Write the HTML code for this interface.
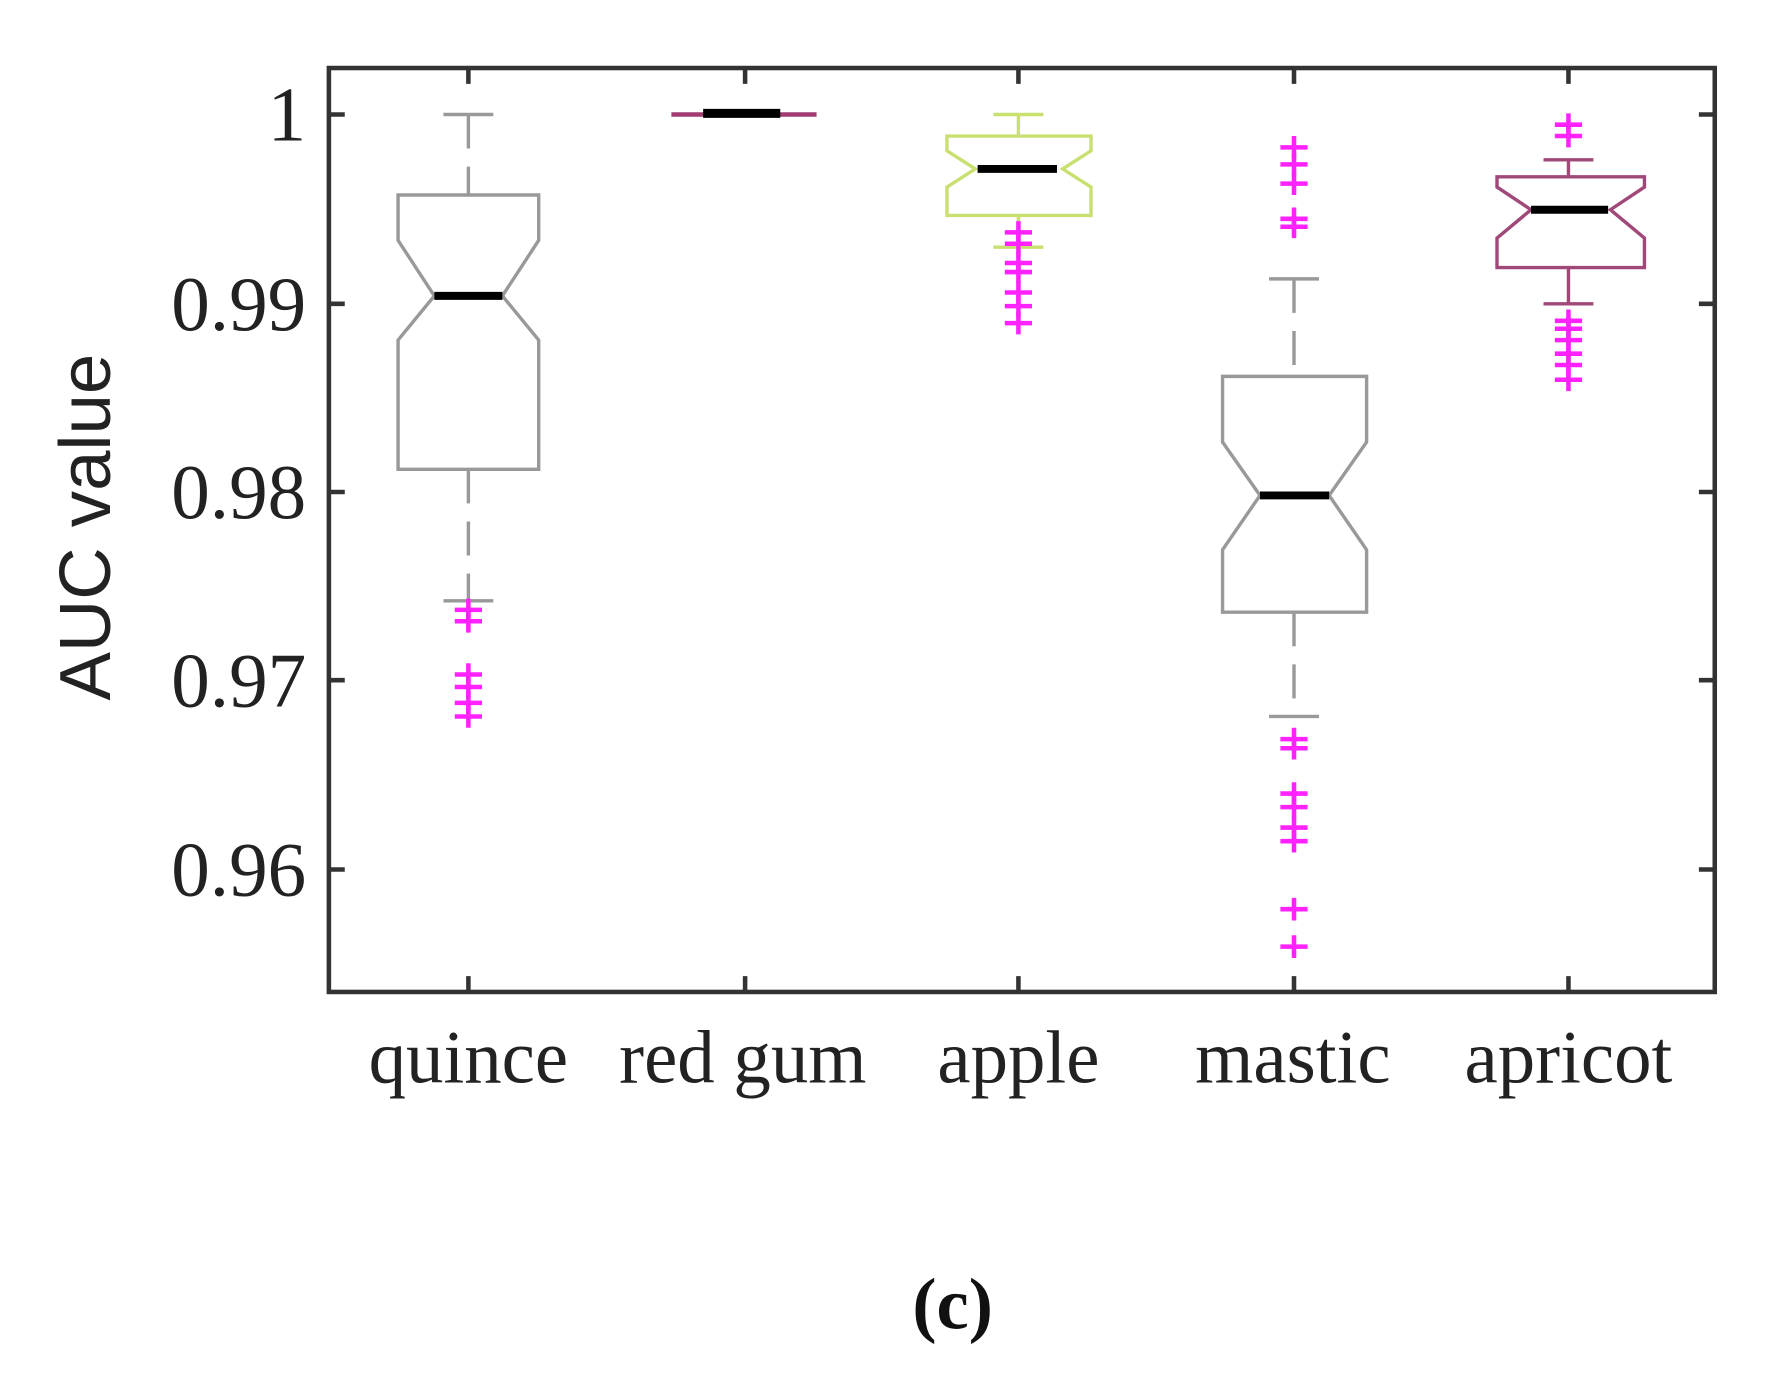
<!DOCTYPE html>
<html><head><style>html,body{margin:0;padding:0;background:#fff;}svg{display:block}</style></head>
<body>
<svg width="1776" height="1374" viewBox="0 0 1566 1212" preserveAspectRatio="none" xmlns="http://www.w3.org/2000/svg">
<defs>
<g id="p"><path d="M-12 0H12M0 -10V10" stroke="#ff22ff" stroke-width="4"/></g>
</defs>
<rect x="290" y="60" width="1222" height="815" fill="none" stroke="#333" stroke-width="4"/>
<g stroke="#333" stroke-width="4">
<path d="M290 101h14M290 268h14M290 434h14M290 600h14M290 767h14"/>
<path d="M1512 101h-14M1512 268h-14M1512 434h-14M1512 600h-14M1512 767h-14"/>
<path d="M413 875v-14M657 875v-14M898 875v-14M1141 875v-14M1383 875v-14"/>
<path d="M413 60v14M657 60v14M898 60v14M1141 60v14M1383 60v14"/>
</g>
<g font-family="Liberation Serif, serif" font-size="68" fill="#222" text-anchor="end">
<text x="270" y="124">1</text><text x="270" y="291">0.99</text><text x="270" y="457">0.98</text><text x="270" y="623">0.97</text><text x="270" y="790">0.96</text>
</g>
<text transform="translate(97,465) rotate(-90)" font-family="Liberation Sans, sans-serif" font-size="64" fill="#222" text-anchor="middle">AUC value</text>
<g font-family="Liberation Serif, serif" font-size="66" fill="#222" text-anchor="middle">
<text x="413" y="955">quince</text><text x="655" y="955">red gum</text><text x="898" y="955">apple</text><text x="1140" y="955">mastic</text><text x="1383" y="955">apricot</text>
</g>
<text x="840" y="1172" font-family="Liberation Serif, serif" font-size="64" font-weight="bold" fill="#111" text-anchor="middle">(c)</text>
<!-- quince -->
<g stroke="#999" stroke-width="3" fill="none">
<path d="M391 101h44M391 530h44"/>
<path d="M413 101v70M413 414v116" stroke-dasharray="30 16"/>
<path d="M351 172H475V212L443 261L475 300V414H351V300L383 261L351 212Z"/>
</g>
<path d="M383 261h60" stroke="#000" stroke-width="7"/>
<g fill="none"><use href="#p" x="413" y="538"/><use href="#p" x="413" y="548"/><use href="#p" x="413" y="595"/><use href="#p" x="413" y="606"/><use href="#p" x="413" y="620"/><use href="#p" x="413" y="632"/></g>
<!-- red gum -->
<path d="M592 101h128" stroke="#a03c70" stroke-width="4"/>
<path d="M620 100h68" stroke="#000" stroke-width="8"/>
<!-- apple -->
<g stroke="#c8e070" stroke-width="3" fill="none">
<path d="M876 101h44M898 101v19M898 190v28M876 218h44"/>
<path d="M835 120H962V133L937 149L962 165V190H835V165L860 149L835 133Z"/>
</g>
<path d="M862 149h70" stroke="#000" stroke-width="7"/>
<g><use href="#p" x="898" y="205"/><use href="#p" x="898" y="215"/><use href="#p" x="898" y="232"/><use href="#p" x="898" y="240"/><use href="#p" x="898" y="258"/><use href="#p" x="898" y="270"/><use href="#p" x="898" y="285"/></g>
<!-- mastic -->
<g stroke="#999" stroke-width="3" fill="none">
<path d="M1119 246h44M1119 632h44"/>
<path d="M1141 246v86M1141 540v92" stroke-dasharray="30 16"/>
<path d="M1078 332H1205V390L1172 437L1205 485V540H1078V485L1111 437L1078 390Z"/>
</g>
<path d="M1111 437h61" stroke="#000" stroke-width="7"/>
<g><use href="#p" x="1141" y="130"/><use href="#p" x="1141" y="145"/><use href="#p" x="1141" y="162"/><use href="#p" x="1141" y="193"/><use href="#p" x="1141" y="200"/>
<use href="#p" x="1141" y="652"/><use href="#p" x="1141" y="660"/><use href="#p" x="1141" y="700"/><use href="#p" x="1141" y="712"/><use href="#p" x="1141" y="730"/><use href="#p" x="1141" y="742"/><use href="#p" x="1141" y="802"/><use href="#p" x="1141" y="835"/></g>
<!-- apricot -->
<g stroke="#a04878" stroke-width="3" fill="none">
<path d="M1361 141h44M1383 141v15M1383 236v32M1361 268h44"/>
<path d="M1320 156H1450V165L1420 185L1450 210V236H1320V210L1350 185L1320 165Z"/>
</g>
<path d="M1350 185h68" stroke="#000" stroke-width="7"/>
<g><use href="#p" x="1383" y="110"/><use href="#p" x="1383" y="120"/><use href="#p" x="1383" y="283"/><use href="#p" x="1383" y="290"/><use href="#p" x="1383" y="300"/><use href="#p" x="1383" y="312"/><use href="#p" x="1383" y="322"/><use href="#p" x="1383" y="335"/></g>
</svg>
</body></html>
